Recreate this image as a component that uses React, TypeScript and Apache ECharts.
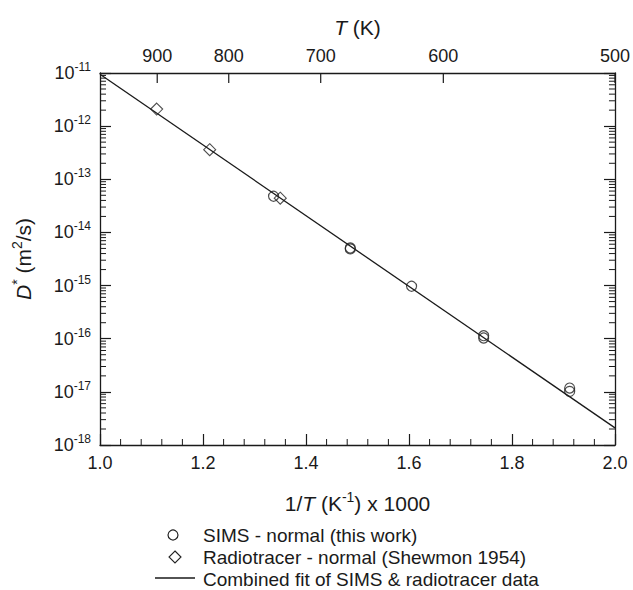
import React, { useEffect, useRef } from "react";
import * as echarts from "echarts";

// SIMS - normal (this work): x = 1000/T (K^-1 x 1000), D* (m^2/s)
const simsX = [1.337, 1.486, 1.486, 1.605, 1.745, 1.745, 1.912, 1.912];
const simsD = [4.8e-14, 4.9e-15, 5.1e-15, 9.7e-16, 1.14e-16, 1.03e-16, 1.18e-17, 1.02e-17];

// Radiotracer - normal (Shewmon 1954)
const radioX = [1.11, 1.213, 1.35];
const radioD = [2.1e-12, 3.6e-13, 4.4e-14];

// Combined fit (Arrhenius line, straight in log space)
const fitX = [1.0, 2.0];
const fitD = [9.5e-12, 2.1e-18];

// Top axis temperatures (K)
const topTemps = [900, 800, 700, 600, 500];

// Minor ticks: log axis multipliers per decade, bottom axis minor positions
const minorMultipliers = [2, 3, 4, 5, 6, 7, 8, 9];
const decades = [-18, -17, -16, -15, -14, -13, -12];
const xMinorTicks = [
  1.04, 1.08, 1.12, 1.16, 1.24, 1.28, 1.32, 1.36, 1.44, 1.48, 1.52, 1.56,
  1.64, 1.68, 1.72, 1.76, 1.84, 1.88, 1.92, 1.96,
];

const FONT = "'Liberation Sans', Arial, Helvetica, sans-serif";
const INK = "#1a1a1a";

const yMinorTicks: number[] = [];
decades.forEach((d) => minorMultipliers.forEach((m) => yMinorTicks.push(m * Math.pow(10, d))));

const topTickValues = topTemps.map((t) => 1000 / t);

const supLabel = (v: number) => {
  const e = Math.round(Math.log10(v));
  return `{b|10}{s|${e}}`;
};

const MINOR_LEN = 6;
const TOP_TICK_LEN = 10;

const option: any = {
  animation: false,
  grid: { left: 100, right: 16, top: 73, bottom: 145, containLabel: false },
  xAxis: [
    {
      type: "value",
      position: "bottom",
      min: 1,
      max: 2,
      interval: 0.2,
      axisLine: { show: true, onZero: false, lineStyle: { color: INK, width: 1.3 } },
      axisTick: { show: true, inside: true, length: 11, lineStyle: { color: INK, width: 1.2 } },
      splitLine: { show: false },
      axisLabel: {
        formatter: (v: number) => v.toFixed(1),
        fontFamily: FONT,
        fontSize: 18,
        color: INK,
        margin: 9,
      },
      name: "{a|1/}{i|T}{a| (K}{s|-1}{a|) x 1000}",
      nameLocation: "middle",
      nameGap: 45,
      nameTextStyle: {
        fontFamily: FONT,
        color: INK,
        rich: {
          a: { fontSize: 21, lineHeight: 26, fontFamily: FONT, color: INK },
          i: { fontSize: 21, lineHeight: 26, fontStyle: "italic", fontFamily: FONT, color: INK },
          s: { fontSize: 14, lineHeight: 14, verticalAlign: "top", fontFamily: FONT, color: INK },
        },
      },
    },
    {
      type: "value",
      position: "top",
      min: 1,
      max: 2,
      axisLine: { show: true, onZero: false, lineStyle: { color: INK, width: 1.3 } },
      axisTick: { show: false },
      splitLine: { show: false },
      axisLabel: {
        customValues: topTickValues,
        formatter: (v: number) => String(Math.round(1000 / v)),
        fontFamily: FONT,
        fontSize: 18,
        color: INK,
        margin: 8,
      },
      name: "{i|T}{a| (K)}",
      nameLocation: "middle",
      nameGap: 33,
      nameTextStyle: {
        fontFamily: FONT,
        color: INK,
        rich: {
          a: { fontSize: 21, lineHeight: 26, fontFamily: FONT, color: INK },
          i: { fontSize: 21, lineHeight: 26, fontStyle: "italic", fontFamily: FONT, color: INK },
        },
      },
    },
  ],
  yAxis: [
    {
      type: "log",
      logBase: 10,
      position: "left",
      min: 1e-18,
      max: 1e-11,
      axisLine: { show: true, onZero: false, lineStyle: { color: INK, width: 1.3 } },
      axisTick: { show: true, inside: true, length: 11, lineStyle: { color: INK, width: 1.2 } },
      splitLine: { show: false },
      axisLabel: {
        formatter: supLabel,
        margin: 9,
        color: INK,
        fontFamily: FONT,
        rich: {
          b: { fontSize: 18, lineHeight: 24, fontFamily: FONT, color: INK },
          s: { fontSize: 12, lineHeight: 12, verticalAlign: "top", fontFamily: FONT, color: INK },
        },
      },
      name: "{i|D}{s|*}{a| (m}{s|2}{a|/s)}",
      nameLocation: "middle",
      nameRotate: 90,
      nameGap: 64,
      nameTextStyle: {
        fontFamily: FONT,
        color: INK,
        rich: {
          a: { fontSize: 21, lineHeight: 26, fontFamily: FONT, color: INK },
          i: { fontSize: 21, lineHeight: 26, fontStyle: "italic", fontFamily: FONT, color: INK },
          s: { fontSize: 14, lineHeight: 14, verticalAlign: "top", fontFamily: FONT, color: INK },
        },
      },
    },
    {
      type: "log",
      logBase: 10,
      position: "right",
      min: 1e-18,
      max: 1e-11,
      axisLine: { show: true, onZero: false, lineStyle: { color: INK, width: 1.3 } },
      axisTick: { show: true, inside: true, length: 11, lineStyle: { color: INK, width: 1.2 } },
      splitLine: { show: false },
      axisLabel: { show: false },
    },
  ],
  series: [
    {
      name: "yMinorTicks",
      type: "custom",
      xAxisIndex: 0,
      yAxisIndex: 0,
      silent: true,
      data: yMinorTicks.map((v) => [1, v]),
      renderItem: (params: any, api: any) => {
        const v = api.value(1);
        const l = api.coord([1, v]);
        const r = api.coord([2, v]);
        const style = { stroke: INK, lineWidth: 1 };
        return {
          type: "group",
          children: [
            { type: "line", shape: { x1: l[0], y1: l[1], x2: l[0] + MINOR_LEN, y2: l[1] }, style },
            { type: "line", shape: { x1: r[0] - MINOR_LEN, y1: r[1], x2: r[0], y2: r[1] }, style },
          ],
        };
      },
      z: 1,
    },
    {
      name: "xMinorTicks",
      type: "custom",
      xAxisIndex: 0,
      yAxisIndex: 0,
      silent: true,
      data: xMinorTicks.map((x) => [x, 1e-18]),
      renderItem: (params: any, api: any) => {
        const x = api.value(0);
        const b = api.coord([x, 1e-18]);
        return {
          type: "line",
          shape: { x1: b[0], y1: b[1], x2: b[0], y2: b[1] - MINOR_LEN },
          style: { stroke: INK, lineWidth: 1 },
        };
      },
      z: 1,
    },
    {
      name: "topTicks",
      type: "custom",
      xAxisIndex: 0,
      yAxisIndex: 0,
      silent: true,
      data: topTickValues.map((x) => [x, 1e-11]),
      renderItem: (params: any, api: any) => {
        const x = api.value(0);
        const t = api.coord([x, 1e-11]);
        return {
          type: "line",
          shape: { x1: t[0], y1: t[1], x2: t[0], y2: t[1] + TOP_TICK_LEN },
          style: { stroke: INK, lineWidth: 1.2 },
        };
      },
      z: 1,
    },
    {
      name: "Combined fit of SIMS & radiotracer data",
      type: "line",
      xAxisIndex: 0,
      yAxisIndex: 0,
      data: fitX.map((x, i) => [x, fitD[i]]),
      symbol: "none",
      lineStyle: { color: INK, width: 1.3 },
      clip: true,
      z: 2,
    },
    {
      name: "SIMS - normal (this work)",
      type: "scatter",
      xAxisIndex: 0,
      yAxisIndex: 0,
      data: simsX.map((x, i) => [x, simsD[i]]),
      symbol: "circle",
      symbolSize: 10,
      itemStyle: { color: "transparent", borderColor: "#222", borderWidth: 1.2 },
      z: 3,
    },
    {
      name: "Radiotracer - normal (Shewmon 1954)",
      type: "scatter",
      xAxisIndex: 0,
      yAxisIndex: 0,
      data: radioX.map((x, i) => [x, radioD[i]]),
      symbol: "diamond",
      symbolSize: 12,
      itemStyle: { color: "transparent", borderColor: "#222", borderWidth: 1.1 },
      z: 3,
    },
  ],
  graphic: [
    {
      type: "circle",
      shape: { cx: 173, cy: 535, r: 5 },
      style: { fill: "none", stroke: "#222", lineWidth: 1.2 },
    },
    {
      type: "polygon",
      shape: { points: [[175, 551], [181, 557], [175, 563], [169, 557]] },
      style: { fill: "none", stroke: "#222", lineWidth: 1.1 },
    },
    {
      type: "line",
      shape: { x1: 155, y1: 578, x2: 195, y2: 578 },
      style: { stroke: INK, lineWidth: 1.3 },
    },
    {
      type: "text",
      x: 203,
      y: 535,
      style: { text: "SIMS - normal (this work)", fontFamily: FONT, fontSize: 19, fill: INK, verticalAlign: "middle" },
    },
    {
      type: "text",
      x: 203,
      y: 557,
      style: { text: "Radiotracer - normal (Shewmon 1954)", fontFamily: FONT, fontSize: 19, fill: INK, verticalAlign: "middle" },
    },
    {
      type: "text",
      x: 203,
      y: 579,
      style: { text: "Combined fit of SIMS & radiotracer data", fontFamily: FONT, fontSize: 19, fill: INK, verticalAlign: "middle" },
    },
  ],
};

export default function App() {
  const ref = useRef<HTMLDivElement>(null);
  useEffect(() => {
    document.body.style.margin = "0";
    const chart = echarts.init(ref.current as HTMLDivElement, null, { renderer: "svg" });
    chart.setOption(option);
    return () => chart.dispose();
  }, []);
  return <div ref={ref} style={{ width: 633, height: 590 }} />;
}
